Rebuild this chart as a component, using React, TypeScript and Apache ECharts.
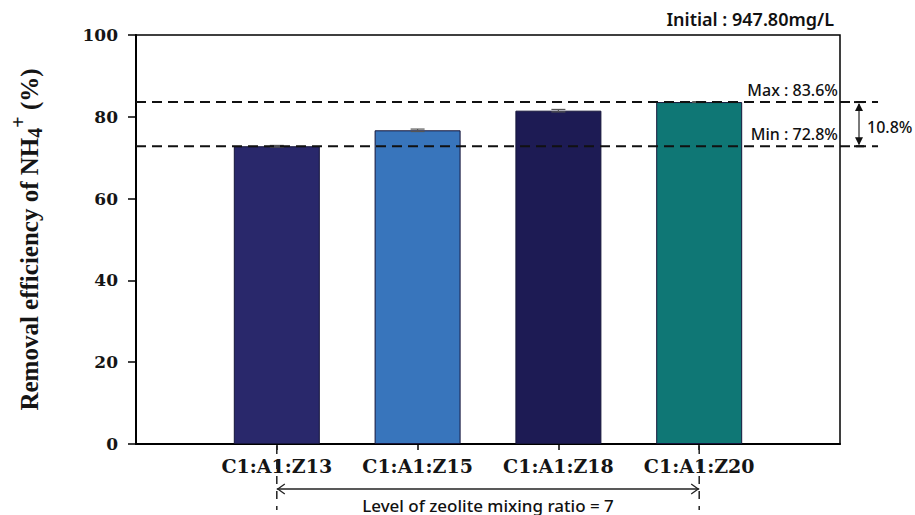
import React, { useEffect, useRef } from "react";
import * as echarts from "echarts";

// Treatment mixes (cement : alum : zeolite) and their NH4+ removal efficiency (%)
const CATEGORIES = ["C1:A1:Z13", "C1:A1:Z15", "C1:A1:Z18", "C1:A1:Z20"];
const REMOVAL = [72.8, 76.7, 81.5, 83.6];
const ERRORS = [0.2, 0.3, 0.3, 0.1];
const BAR_COLORS = ["#29286b", "#3875bc", "#1d1b54", "#0f7775"];
const Y_MIN = 0;
const Y_MAX = 100;
const Y_INTERVAL = 20;
const INITIAL_CONC = "947.80";
const MIXING_LEVEL = 7;

const SERIF = "'DejaVu Serif', 'Liberation Serif', serif";
const SANS = "'Noto Sans', 'Noto Sans CJK KR', sans-serif";

const MAX_VAL = Math.max(...REMOVAL);
const MIN_VAL = Math.min(...REMOVAL);

export default function App() {
  const ref = useRef<HTMLDivElement>(null);

  useEffect(() => {
    if (!ref.current) return;
    const chart = echarts.init(ref.current, null, { renderer: "svg" });
    const slots = CATEGORIES.length + 1;
    const catTicks = CATEGORIES.map((_, i) => i + 1);

    const option: any = {
      animation: false,
      backgroundColor: "#ffffff",
      title: {
        text: `Initial : ${INITIAL_CONC}mg/L`,
        right: 76,
        top: 5,
        textStyle: {
          fontFamily: SANS,
          fontSize: 18,
          fontWeight: 600,
          color: "#111",
        },
      },
      grid: {
        left: 132,
        right: 75,
        top: 35,
        bottom: 71,
        show: true,
        borderColor: "#000",
        borderWidth: 1.5,
        backgroundColor: "transparent",
      },
      xAxis: {
        type: "value",
        min: 0,
        max: slots,
        interval: 1,
        splitLine: { show: false },
        axisLine: { show: true, lineStyle: { color: "#000", width: 2 } },
        axisTick: {
          show: true,
          customValues: catTicks,
          length: 6,
          lineStyle: { color: "#000", width: 1.5 },
        },
        axisLabel: {
          customValues: catTicks,
          formatter: (v: number) => CATEGORIES[Math.round(v) - 1] ?? "",
          fontFamily: SERIF,
          fontWeight: "bold",
          fontSize: 19,
          color: "#151515",
          margin: 12,
        },
      },
      yAxis: {
        type: "value",
        min: Y_MIN,
        max: Y_MAX,
        interval: Y_INTERVAL,
        splitLine: { show: false },
        axisLine: { show: true, lineStyle: { color: "#000", width: 2 } },
        axisTick: { show: true, length: 8, lineStyle: { color: "#000", width: 1.5 } },
        axisLabel: {
          fontFamily: SERIF,
          fontWeight: "bold",
          fontSize: 17,
          color: "#151515",
          margin: 18,
        },
        name: "{main|Removal efficiency of NH}{sub|4}{sup|+}{main| (%)}",
        nameLocation: "middle",
        nameRotate: 90,
        nameGap: 86,
        nameTextStyle: {
          rich: {
            main: {
              fontFamily: "'Liberation Serif', serif",
              fontWeight: "bold",
              fontSize: 25,
              color: "#151515",
            },
            sub: {
              fontFamily: "'Liberation Serif', serif",
              fontWeight: "bold",
              fontSize: 20,
              color: "#151515",
              padding: [12, 0, 0, 0],
            },
            sup: {
              fontFamily: "'Liberation Serif', serif",
              fontWeight: "bold",
              fontSize: 20,
              color: "#151515",
              padding: [0, 0, 22, 0],
            },
          },
        },
      },
      series: [
        {
          type: "bar",
          barWidth: 86,
          data: REMOVAL.map((v, i) => ({
            value: [i + 1, v],
            itemStyle: { color: BAR_COLORS[i] },
          })),
          itemStyle: { borderColor: "#15153a", borderWidth: 1 },
          z: 2,
        },
        {
          // error bars
          type: "custom",
          z: 3,
          silent: true,
          data: REMOVAL.map((v, i) => [i + 1, v, ERRORS[i]]),
          encode: { x: 0, y: 1 },
          renderItem: (_p: any, api: any) => {
            const x = api.value(0);
            const v = api.value(1);
            const e = api.value(2);
            const hi = api.coord([x, v + e]);
            const lo = api.coord([x, v - e]);
            const hw = 7;
            const style = { stroke: "#555", lineWidth: 1.2 };
            return {
              type: "group",
              children: [
                { type: "line", shape: { x1: hi[0], y1: hi[1], x2: lo[0], y2: lo[1] }, style },
                { type: "line", shape: { x1: hi[0] - hw, y1: hi[1], x2: hi[0] + hw, y2: hi[1] }, style },
                { type: "line", shape: { x1: lo[0] - hw, y1: lo[1], x2: lo[0] + hw, y2: lo[1] }, style },
              ],
            };
          },
        },
        {
          // max / min reference lines and range annotations
          type: "custom",
          z: 4,
          silent: true,
          clip: false,
          data: [[MAX_VAL, MIN_VAL]],
          encode: { y: 0 },
          renderItem: (_p: any, api: any) => {
            const maxV = api.value(0);
            const minV = api.value(1);
            const origin = api.coord([0, 0]);
            const band = api.coord([1, 0])[0] - origin[0];
            const right = api.coord([slots, 0])[0];
            const yMax = api.coord([0, maxV])[1];
            const yMin = api.coord([0, minV])[1];
            const lineEnd = right + 0.27 * band;
            const xa = right + 0.135 * band;
            const dashStyle = { stroke: "#111", lineWidth: 2, lineDash: [10, 6] };
            const ink = "#111";

            const x1 = api.coord([1, 0])[0];
            const x4 = api.coord([CATEGORIES.length, 0])[0];
            const axisY = origin[1];
            const arrowY = axisY + 45;
            const vDash = { stroke: "#222", lineWidth: 1.5, lineDash: [8, 7] };
            const ah = 8;

            return {
              type: "group",
              children: [
                { type: "line", shape: { x1: origin[0], y1: yMax, x2: lineEnd, y2: yMax }, style: dashStyle },
                { type: "line", shape: { x1: origin[0], y1: yMin, x2: lineEnd, y2: yMin }, style: dashStyle },
                {
                  type: "text",
                  style: {
                    x: right - 2, y: yMax - 12, text: `Max : ${maxV.toFixed(1)}%`,
                    align: "right", verticalAlign: "middle",
                    font: `500 16px ${SANS}`, fill: ink,
                  },
                },
                {
                  type: "text",
                  style: {
                    x: right - 2, y: yMin - 12, text: `Min : ${minV.toFixed(1)}%`,
                    align: "right", verticalAlign: "middle",
                    font: `500 16px ${SANS}`, fill: ink,
                  },
                },
                // range arrow
                { type: "line", shape: { x1: xa, y1: yMax + 2, x2: xa, y2: yMin - 2 }, style: { stroke: "#333", lineWidth: 1.3 } },
                { type: "line", shape: { x1: xa - 5, y1: yMax, x2: xa + 5, y2: yMax }, style: { stroke: "#111", lineWidth: 2 } },
                { type: "line", shape: { x1: xa - 5, y1: yMin, x2: xa + 5, y2: yMin }, style: { stroke: "#111", lineWidth: 2 } },
                { type: "polygon", shape: { points: [[xa, yMax + 1], [xa - 4, yMax + 9], [xa + 4, yMax + 9]] }, style: { fill: "#111" } },
                { type: "polygon", shape: { points: [[xa, yMin - 1], [xa - 4, yMin - 9], [xa + 4, yMin - 9]] }, style: { fill: "#111" } },
                {
                  type: "text",
                  style: {
                    x: xa + 8, y: (yMax + yMin) / 2 + 3, text: `${(maxV - minV).toFixed(1)}%`,
                    align: "left", verticalAlign: "middle",
                    font: `500 16px ${SANS}`, fill: ink,
                  },
                },
                // mixing-ratio span below the axis
                { type: "line", shape: { x1: x1, y1: axisY + 2, x2: x1, y2: axisY + 66 }, style: vDash },
                { type: "line", shape: { x1: x4, y1: axisY + 2, x2: x4, y2: axisY + 66 }, style: vDash },
                { type: "line", shape: { x1: x1, y1: arrowY, x2: x4, y2: arrowY }, style: { stroke: "#222", lineWidth: 1.3 } },
                { type: "polyline", shape: { points: [[x1 + ah, arrowY - 5], [x1 + 1, arrowY], [x1 + ah, arrowY + 5]] }, style: { stroke: "#222", lineWidth: 1.3, fill: "none" } },
                { type: "polyline", shape: { points: [[x4 - ah, arrowY - 5], [x4 - 1, arrowY], [x4 - ah, arrowY + 5]] }, style: { stroke: "#222", lineWidth: 1.3, fill: "none" } },
                {
                  type: "text",
                  style: {
                    x: (x1 + x4) / 2, y: axisY + 61, text: `Level of zeolite mixing ratio = ${MIXING_LEVEL}`,
                    align: "center", verticalAlign: "middle",
                    font: `500 17px ${SANS}`, fill: ink,
                  },
                },
              ],
            };
          },
        },
      ],
    };

    chart.setOption(option);
    return () => chart.dispose();
  }, []);

  return (
    <div
      ref={ref}
      style={{ position: "absolute", left: 0, top: 0, width: 915, height: 515 }}
    />
  );
}
